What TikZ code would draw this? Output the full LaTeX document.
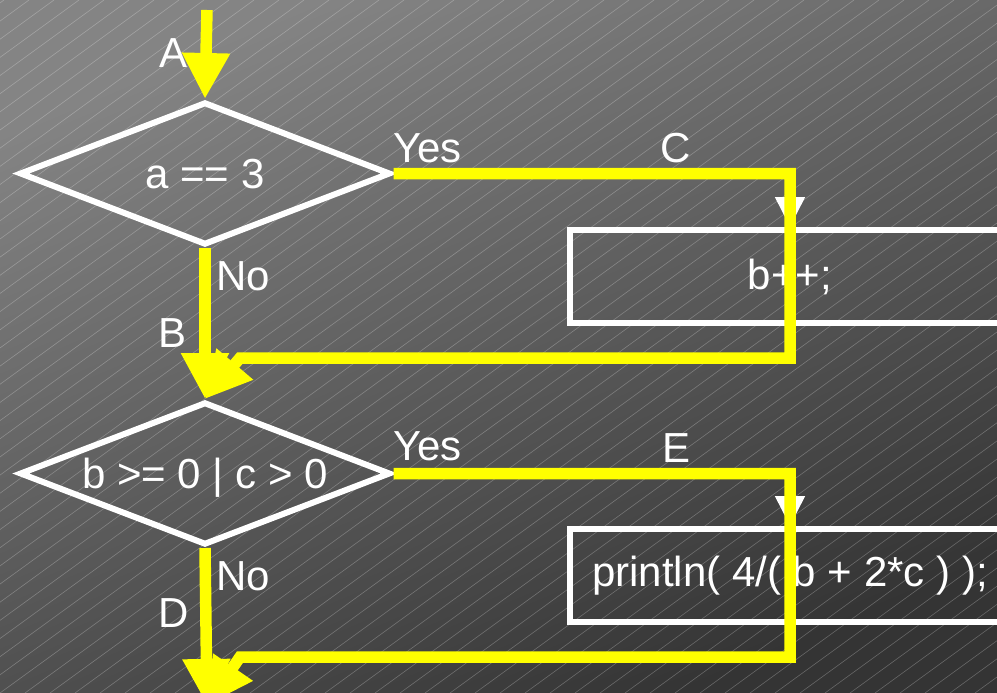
\documentclass[tikz,border=0pt]{standalone}
\usepackage{fontspec}
\setmainfont{Liberation Sans}
\usetikzlibrary{arrows.meta, positioning, shapes.geometric}
\definecolor{trace}{RGB}{255,255,0}
\definecolor{bglight}{RGB}{132,132,132}
\definecolor{bgdark}{RGB}{52,52,52}
\newcommand{\chartfont}{\fontsize{42}{48}\selectfont}
\tikzset{decision/.style={diamond, draw=white, line width=6pt, aspect=2.56,
           minimum width=371pt, minimum height=143pt, inner sep=0pt,
           text=white, font=\chartfont, text depth=0pt},
         stmt/.style={rectangle, draw=white, line width=6pt,
           minimum width=440pt, minimum height=93pt, text=white, font=\chartfont},
         lbl/.style={text=white, font=\chartfont, inner sep=0pt},
         run/.style={draw=trace, line width=11.5pt,
           -{Triangle[length=46pt, width=45pt]}},
         flow/.style={draw=white, line width=5pt,
           -{Triangle[length=30pt, width=29pt]}},
         hatch/.style={draw=white, opacity=0.25, line width=0.6pt}}

\begin{document}
\begin{tikzpicture}[x=1pt, y=-1pt]
\useasboundingbox (0,0) rectangle (997,693);
\clip (0,0) rectangle (997,693);
% backdrop
\shade[top color=bglight, bottom color=bgdark, shading angle=23]
  (0,0) rectangle (997,693);
\foreach \k in {-40,...,40}
  \draw[hatch] (\k*25, 693) -- ++(954,-693);

% the two tests and their statements
\node[decision] (q1) at (205,173.5) {a == 3};
\node[decision] (q2) at (205,473.5) {b >= 0 | c > 0};
\node[stmt] (s1) at (790,276.5) {b++;};
\node[stmt] (s2) at (790,575.5) {println( 4/( b + 2*c ) );};
\draw[flow] (q1.east) -| (s1.north);
\draw[flow] (q2.east) -| (s2.north);

% highlighted run through the chart
\coordinate (in) at (207,10);
\coordinate (j1) at (240,358);
\coordinate (j2) at (240,657);
\coordinate (out) at (207,705);
\draw[run] (in) -- (q1.north);
\draw[run] (q1.south) -- (q2.north);
\draw[run] (q1.east) -| (s1.south |- j1) -- (j1) -- (q2.north);
\draw[run] (q2.south) -- (out);
\draw[run] (q2.east) -| (s2.south |- j2) -- (j2) -- (out);

% edge labels
\node[lbl] at (174,53) {A};
\node[lbl] at (173,333) {B};
\node[lbl] at (676,148) {C};
\node[lbl] at (174,613) {D};
\node[lbl] at (677,448) {E};
\node[lbl, anchor=west] at (393,148) {Yes};
\node[lbl, anchor=west] at (393,446) {Yes};
\node[lbl, anchor=west] at (216,276) {No};
\node[lbl, anchor=west] at (216,576) {No};
\end{tikzpicture}
\end{document}
